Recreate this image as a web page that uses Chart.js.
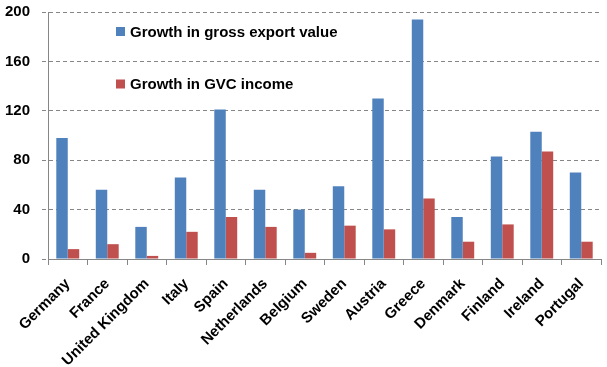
<!DOCTYPE html>
<html lang="en">
<head>
    <meta charset="UTF-8">
    <title>Export vs GVC income growth</title>
    <script src="https://cdn.jsdelivr.net/npm/chart.js@4.4.0/dist/chart.umd.min.js"></script>
    <style>
        html, body { margin: 0; padding: 0; background: #fff; }
        #wrap { width: 607px; height: 367px; }
    </style>
</head>
<body>
<div id="wrap"><canvas id="growthChart"></canvas></div>
<script>
    const countries = ['Germany', 'France', 'United Kingdom', 'Italy', 'Spain', 'Netherlands', 'Belgium',
        'Sweden', 'Austria', 'Greece', 'Denmark', 'Finland', 'Ireland', 'Portugal'];
    const exportGrowth = [98, 56, 26, 66, 121, 56, 40, 59, 130, 194, 34, 83, 103, 70];
    const gvcGrowth = [8, 12, 2.5, 22, 34, 26, 5, 27, 24, 49, 14, 28, 87, 14];
    const seriesNames = ['Growth in gross export value', 'Growth in GVC income'];
    const yMax = 200, yStep = 40;

    const family = "'Liberation Sans', Arial, sans-serif";
    const font = { family: family, size: 15, weight: 'bold' };

    // legend sits inside the plot area, top-left
    const insideLegend = {
        id: 'insideLegend',
        afterDraw(chart) {
            const ctx = chart.ctx;
            const rows = [31.5, 84];
            ctx.save();
            ctx.font = 'bold 15px ' + family;
            ctx.textBaseline = 'middle';
            chart.data.datasets.forEach((ds, i) => {
                ctx.fillStyle = ds.backgroundColor;
                ctx.fillRect(116, rows[i] - 4.5, 9, 9);
                ctx.fillStyle = '#000';
                ctx.fillText(ds.label, 130, rows[i] + 1);
            });
            ctx.restore();
        }
    };

    new Chart(document.getElementById('growthChart'), {
        type: 'bar',
        data: {
            labels: countries,
            datasets: [
                { label: seriesNames[0], data: exportGrowth, backgroundColor: '#4F81BD' },
                { label: seriesNames[1], data: gvcGrowth, backgroundColor: '#C0504D' }
            ]
        },
        options: {
            responsive: true,
            maintainAspectRatio: false,
            animation: false,
            layout: { padding: { top: 12, right: 6, left: 0, bottom: 0 } },
            datasets: { bar: { barPercentage: 1, categoryPercentage: 0.58 } },
            plugins: { legend: { display: false }, tooltip: { enabled: false } },
            scales: {
                x: {
                    grid: { display: true, offset: true, drawOnChartArea: false, tickLength: 6, color: '#868686' },
                    border: { color: '#868686', width: 1 },
                    ticks: { color: '#000', font: font, maxRotation: 45, minRotation: 45, padding: 10 },
                    afterFit(scale) { scale.height = 108; }
                },
                y: {
                    min: 0, max: yMax,
                    grid: { color: '#868686', tickLength: 6, tickBorderDash: [4, 3] },
                    border: { color: '#868686', width: 1, dash: [4, 3] },
                    ticks: { stepSize: yStep, color: '#000', font: font, padding: 12 },
                    afterFit(scale) {
                        scale.width = 48;
                        scale.paddingTop = 0;
                        scale.paddingBottom = 0;
                    }
                }
            }
        },
        plugins: [insideLegend]
    });
</script>
</body>
</html>
